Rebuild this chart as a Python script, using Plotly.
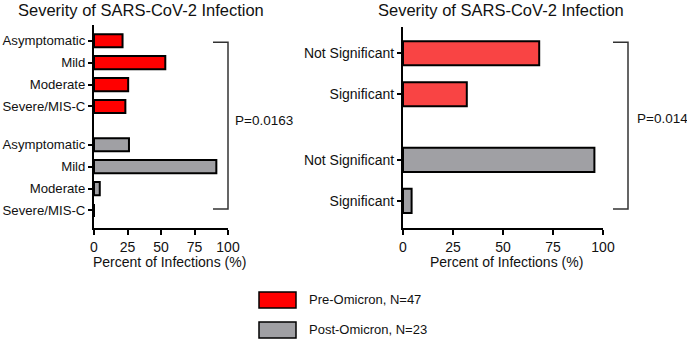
import plotly.graph_objects as go

W, H = 687, 339

# ---- data ----
left_labels = ["Asymptomatic", "Mild", "Moderate", "Severe/MIS-C",
               "Asymptomatic", "Mild", "Moderate", "Severe/MIS-C"]
left_pre = [21.3, 53.2, 25.5, 23.4]
left_post = [26.1, 91.3, 4.3, 0.0]

right_labels = ["Not Significant", "Significant", "Not Significant", "Significant"]
right_pre = [68.1, 31.9]
right_post = [95.7, 4.3]

x_ticks = [0, 25, 50, 75, 100]
title_text = "Severity of SARS-CoV-2 Infection"
xaxis_title = "Percent of Infections (%)"
p_left = "P=0.0163"
p_right = "P=0.014"
legend_names = ["Pre-Omicron, N=47", "Post-Omicron, N=23"]

# ---- layout positions (category slots) ----
left_pos = [0, 1, 2, 3, 4.75, 5.75, 6.75, 7.75]
right_pos = [0, 1, 2.6, 3.6]

RED_L = "#ff0000"
RED_R = "#f94444"
GRAY = "#a0a0a4"
FONT = "Liberation Sans, Arial, sans-serif"
TXT = "#111111"


def px(x):
    return x / W


def py(y):
    return 1 - y / H


fig = go.Figure()
fig.add_trace(go.Bar(y=left_pos[:4], x=left_pre, orientation="h", width=0.6,
                     marker=dict(color=RED_L, line=dict(color="black", width=2)),
                     xaxis="x", yaxis="y", showlegend=False))
fig.add_trace(go.Bar(y=left_pos[4:], x=left_post, orientation="h", width=0.6,
                     marker=dict(color=GRAY, line=dict(color="black", width=2)),
                     xaxis="x", yaxis="y", showlegend=False))
fig.add_trace(go.Bar(y=right_pos[:2], x=right_pre, orientation="h", width=0.59,
                     marker=dict(color=RED_R, line=dict(color="black", width=2)),
                     xaxis="x2", yaxis="y2", showlegend=False))
fig.add_trace(go.Bar(y=right_pos[2:], x=right_post, orientation="h", width=0.59,
                     marker=dict(color=GRAY, line=dict(color="black", width=2)),
                     xaxis="x2", yaxis="y2", showlegend=False))

line_common = dict(showline=True, linecolor="black", linewidth=2, ticks="outside",
                   tickcolor="black", showgrid=False, zeroline=False, tickwidth=1.5,
                   automargin=False)
xtickfont = dict(family=FONT, size=14, color=TXT)

fig.update_layout(
    width=W, height=H, margin=dict(l=0, r=0, t=0, b=0, autoexpand=False),
    paper_bgcolor="white", plot_bgcolor="white", barmode="overlay",
    font=dict(family=FONT, color=TXT),
    xaxis=dict(domain=[px(94), px(228)], range=[0, 100], tickvals=x_ticks,
               anchor="y", ticklen=5, tickfont=xtickfont, **line_common),
    yaxis=dict(domain=[py(228), py(25)], range=[8.55, -0.72], tickvals=left_pos,
               ticktext=left_labels, anchor="x", ticklen=4,
               tickfont=dict(family=FONT, size=13.2, color=TXT), **line_common),
    xaxis2=dict(domain=[px(403), px(603)], range=[0, 100], tickvals=x_ticks,
                anchor="y2", ticklen=5, tickfont=xtickfont, **line_common),
    yaxis2=dict(domain=[py(228), py(27)], range=[4.26, -0.64], tickvals=right_pos,
                ticktext=right_labels, anchor="x2", ticklen=4,
                tickfont=dict(family=FONT, size=14, color=TXT), **line_common),
)

shapes = []
# brackets
for x0, x1 in [(213, 228), (613, 628)]:
    shapes.append(dict(type="path", xref="paper", yref="paper",
                       path=f"M {px(x0)} {py(42.3)} L {px(x1)} {py(42.3)} L {px(x1)} {py(209)} L {px(x0)} {py(209)}",
                       line=dict(color="#333", width=1.5)))
# legend boxes
for (y0, y1), col in [((292, 308), RED_L), ((322, 338), GRAY)]:
    shapes.append(dict(type="rect", xref="paper", yref="paper",
                       x0=px(259), x1=px(296), y0=py(y1), y1=py(y0),
                       fillcolor=col, line=dict(color="black", width=1.5)))
fig.update_layout(shapes=shapes)

ann = [
    dict(text=title_text, x=px(141), y=py(10), xanchor="center", yanchor="middle",
         font=dict(size=16.5)),
    dict(text=title_text, x=px(501), y=py(10), xanchor="center", yanchor="middle",
         font=dict(size=16.5)),
    dict(text=xaxis_title, x=px(169.5), y=py(262), xanchor="center", yanchor="middle",
         font=dict(size=14)),
    dict(text=xaxis_title, x=px(506.7), y=py(262), xanchor="center", yanchor="middle",
         font=dict(size=14)),
    dict(text=p_left, x=px(233), y=py(120), xanchor="left", yanchor="middle",
         font=dict(size=13.5)),
    dict(text=p_right, x=px(635), y=py(118), xanchor="left", yanchor="middle",
         font=dict(size=13.5)),
    dict(text=legend_names[0], x=px(307), y=py(299.5), xanchor="left", yanchor="middle",
         font=dict(size=13)),
    dict(text=legend_names[1], x=px(307), y=py(329.5), xanchor="left", yanchor="middle",
         font=dict(size=13)),
]
for a in ann:
    a.update(xref="paper", yref="paper", showarrow=False)
    a["font"]["family"] = FONT
    a["font"]["color"] = TXT
fig.update_layout(annotations=ann)

fig.write_html(
    "out.html",
    config={"displayModeBar": False},
    post_script="document.body.style.margin='0px';"
                "document.documentElement.style.overflow='hidden';",
)
